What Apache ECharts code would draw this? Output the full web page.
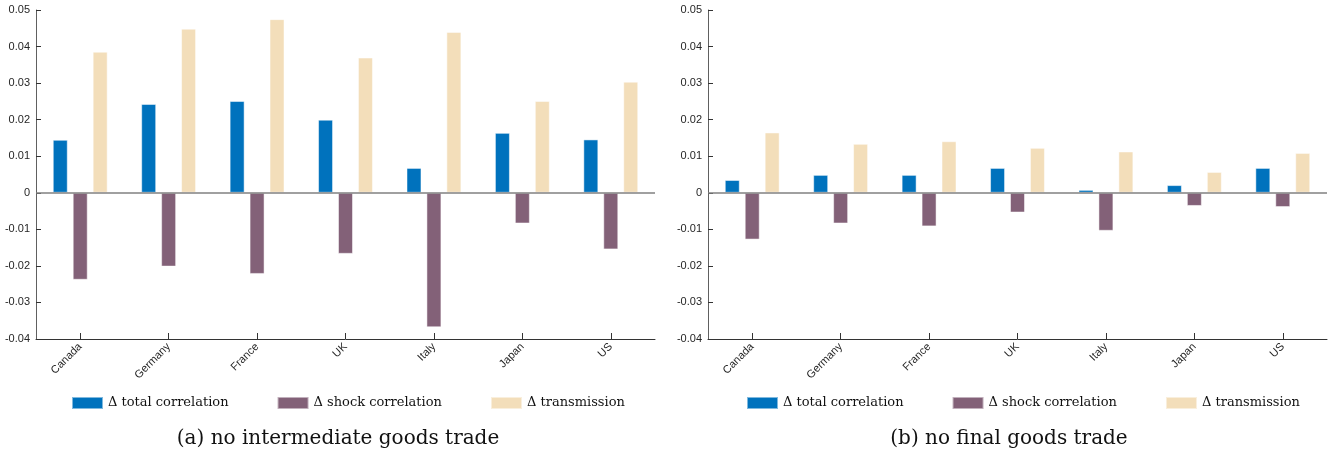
<!DOCTYPE html>
<html>
<head>
<meta charset="utf-8">
<script src="https://cdn.jsdelivr.net/npm/echarts@6/dist/echarts.min.js"></script>
<style>
  html, body { margin: 0; padding: 0; background: #fff; }
  #chart { width: 1332px; height: 451px; }
</style>
</head>
<body>
<div id="chart"></div>
<script>
// countries on both panels
const countries = ['Canada', 'Germany', 'France', 'UK', 'Italy', 'Japan', 'US'];

// (a) no intermediate goods trade
const totalA = [0.0145, 0.0243, 0.0251, 0.0200, 0.0068, 0.0164, 0.0146];
const shockA = [-0.0238, -0.0202, -0.0222, -0.0167, -0.0368, -0.0084, -0.0155];
const transA = [0.0386, 0.0449, 0.0475, 0.0370, 0.0440, 0.0251, 0.0304];

// (b) no final goods trade
const totalB = [0.0035, 0.0049, 0.0049, 0.0068, 0.0008, 0.0021, 0.0068];
const shockB = [-0.0128, -0.0084, -0.0092, -0.0054, -0.0104, -0.0036, -0.0039];
const transB = [0.0165, 0.0134, 0.0141, 0.0123, 0.0113, 0.0057, 0.0109];

const seriesNames = ['Δ total correlation', 'Δ shock correlation', 'Δ transmission'];
const captions = ['(a) no intermediate goods trade', '(b) no final goods trade'];

const colors = ['#0072BD', '#836178', '#F3DEBA'];
const axisColor = '#333';
const textColor = '#262626';

const chart = echarts.init(document.getElementById('chart'));

const makeX = (gridIndex) => ({
  type: 'category',
  gridIndex,
  data: countries,
  axisLine: { onZero: false, lineStyle: { color: axisColor, width: 1 } },
  axisTick: { show: true, inside: true, alignWithLabel: true, length: 6, lineStyle: { color: axisColor, width: 1 } },
  axisLabel: {
    rotate: 45, margin: 6, color: textColor,
    fontFamily: 'Liberation Sans', fontSize: 11
  },
  splitLine: { show: false }
});

const makeY = (gridIndex) => ({
  type: 'value',
  gridIndex,
  min: -0.04,
  max: 0.05,
  interval: 0.01,
  axisLine: { show: true, lineStyle: { color: '#606060', width: 1 } },
  axisTick: { show: true, inside: true, length: 5, lineStyle: { color: axisColor } },
  axisLabel: {
    margin: 6, color: textColor, fontFamily: 'Liberation Sans', fontSize: 11,
    formatter: (v) => String(Math.round(v * 100) / 100)
  },
  splitLine: { show: false }
});

const makeBar = (name, data, idx, colorIdx, withBase) => {
  const s = {
    name,
    type: 'bar',
    xAxisIndex: idx,
    yAxisIndex: idx,
    data,
    barWidth: 15,
    barGap: '33%',
    itemStyle: { color: colors[colorIdx], borderColor: 'rgba(255,255,255,0.5)', borderWidth: 1 },
    emphasis: { disabled: true }
  };
  if (withBase) {
    s.markLine = {
      silent: true,
      symbol: 'none',
      label: { show: false },
      lineStyle: { color: '#808080', width: 1.5, type: 'solid' },
      data: [{ yAxis: 0 }]
    };
  }
  return s;
};

const legendText = { fontFamily: 'DejaVu Serif', fontSize: 13, color: '#111' };
const captionText = { fontFamily: 'DejaVu Serif', fontSize: 20, fontWeight: 'normal', color: '#111' };

chart.setOption({
  animation: false,
  grid: [
    { left: 36, right: 677, top: 10, bottom: 112 },
    { left: 708, right: 5, top: 10, bottom: 112 }
  ],
  xAxis: [makeX(0), makeX(1)],
  yAxis: [makeY(0), makeY(1)],
  legend: [
    {
      left: 71, top: 396, itemWidth: 31, itemHeight: 12, itemGap: 48,
      icon: 'rect', textStyle: legendText, selectedMode: false,
      data: seriesNames, padding: 0
    },
    {
      left: 746, top: 396, itemWidth: 31, itemHeight: 12, itemGap: 48,
      icon: 'rect', textStyle: legendText, selectedMode: false,
      data: seriesNames, padding: 0
    }
  ],
  title: [
    { text: captions[0], left: 333, top: 424, textAlign: 'center', textStyle: captionText },
    { text: captions[1], left: 1004, top: 424, textAlign: 'center', textStyle: captionText }
  ],
  series: [
    makeBar(seriesNames[0], totalA, 0, 0, true),
    makeBar(seriesNames[1], shockA, 0, 1, false),
    makeBar(seriesNames[2], transA, 0, 2, false),
    makeBar(seriesNames[0], totalB, 1, 0, true),
    makeBar(seriesNames[1], shockB, 1, 1, false),
    makeBar(seriesNames[2], transB, 1, 2, false)
  ]
});

window.addEventListener('resize', () => chart.resize());
</script>
</body>
</html>
